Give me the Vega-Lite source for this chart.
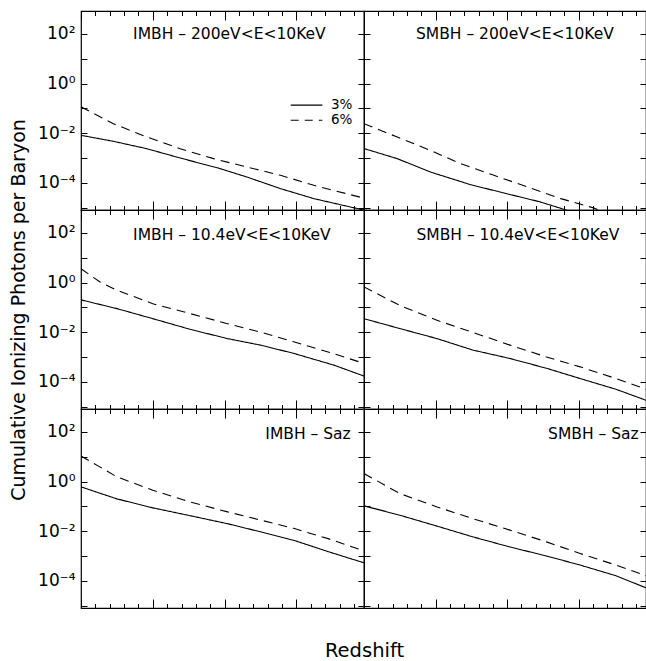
{
"$schema": "https://vega.github.io/schema/vega-lite/v6.json",
"padding": {"left": 8, "top": 9, "right": 0, "bottom": 0},
"background": "white",
"config": {
  "view": {"stroke": "black", "strokeWidth": 1.2},
  "axis": {"domain": false, "grid": false, "labels": false, "tickColor": "black", "tickWidth": 1, "labelFont": "DejaVu Sans", "titleFont": "DejaVu Sans", "labelColor": "black", "titleColor": "black", "titleFontWeight": "normal", "labelOverlap": false},
  "text": {"font": "DejaVu Sans", "color": "black"}
},
"datasets": {
  "curves": [
    {"p":"I200","s":"3%","z":5,"n":0.0082},{"p":"I200","s":"3%","z":7.25,"n":0.0047},{"p":"I200","s":"3%","z":9.58,"n":0.00237},{"p":"I200","s":"3%","z":11.9,"n":0.001},{"p":"I200","s":"3%","z":14.7,"n":0.00037},{"p":"I200","s":"3%","z":16.56,"n":0.00017},{"p":"I200","s":"3%","z":18.89,"n":0.000058},{"p":"I200","s":"3%","z":21.21,"n":0.000023},{"p":"I200","s":"3%","z":24.47,"n":0.0000085},{"p":"I200","s":"3%","z":24.7,"n":0.0000079},
    {"p":"I200","s":"6%","z":5,"n":0.115},{"p":"I200","s":"6%","z":7.25,"n":0.0241},{"p":"I200","s":"6%","z":9.58,"n":0.007},{"p":"I200","s":"6%","z":11.9,"n":0.00237},{"p":"I200","s":"6%","z":14.23,"n":0.00094},{"p":"I200","s":"6%","z":16.56,"n":0.00043},{"p":"I200","s":"6%","z":18.89,"n":0.0002},{"p":"I200","s":"6%","z":21.21,"n":0.000079},{"p":"I200","s":"6%","z":24.35,"n":0.000027},{"p":"I200","s":"6%","z":24.7,"n":0.000024},
    {"p":"S200","s":"3%","z":5,"n":0.0024},{"p":"S200","s":"3%","z":7.32,"n":0.00094},{"p":"S200","s":"3%","z":9.65,"n":0.00027},{"p":"S200","s":"3%","z":12.44,"n":0.000084},{"p":"S200","s":"3%","z":15,"n":0.000036},{"p":"S200","s":"3%","z":17.3,"n":0.000017},{"p":"S200","s":"3%","z":18.97,"n":0.0000085},{"p":"S200","s":"3%","z":19.4,"n":0.000007},
    {"p":"S200","s":"6%","z":5,"n":0.024},{"p":"S200","s":"6%","z":7.32,"n":0.007},{"p":"S200","s":"6%","z":9.65,"n":0.002},{"p":"S200","s":"6%","z":11.75,"n":0.00059},{"p":"S200","s":"6%","z":14.08,"n":0.0002},{"p":"S200","s":"6%","z":16.41,"n":0.000068},{"p":"S200","s":"6%","z":18.75,"n":0.000023},{"p":"S200","s":"6%","z":21.06,"n":0.0000096},{"p":"S200","s":"6%","z":21.6,"n":0.000007},
    {"p":"I104","s":"3%","z":5,"n":0.2},{"p":"I104","s":"3%","z":7.5,"n":0.089},{"p":"I104","s":"3%","z":10,"n":0.035},{"p":"I104","s":"3%","z":12.6,"n":0.013},{"p":"I104","s":"3%","z":15.2,"n":0.0055},{"p":"I104","s":"3%","z":17.5,"n":0.003},{"p":"I104","s":"3%","z":19.8,"n":0.0014},{"p":"I104","s":"3%","z":22.6,"n":0.00047},{"p":"I104","s":"3%","z":24.7,"n":0.00017},
    {"p":"I104","s":"6%","z":5,"n":3.6},{"p":"I104","s":"6%","z":6.3,"n":1.07},{"p":"I104","s":"6%","z":7.5,"n":0.49},{"p":"I104","s":"6%","z":10,"n":0.14},{"p":"I104","s":"6%","z":12.6,"n":0.056},{"p":"I104","s":"6%","z":15.2,"n":0.022},{"p":"I104","s":"6%","z":17.5,"n":0.01},{"p":"I104","s":"6%","z":19.8,"n":0.0041},{"p":"I104","s":"6%","z":22.2,"n":0.0016},{"p":"I104","s":"6%","z":24.7,"n":0.00055},
    {"p":"S104","s":"3%","z":5,"n":0.035},{"p":"S104","s":"3%","z":7.5,"n":0.014},{"p":"S104","s":"3%","z":10.1,"n":0.0055},{"p":"S104","s":"3%","z":12.6,"n":0.0019},{"p":"S104","s":"3%","z":15.2,"n":0.00087},{"p":"S104","s":"3%","z":17.75,"n":0.00035},{"p":"S104","s":"3%","z":20.1,"n":0.000135},{"p":"S104","s":"3%","z":22.6,"n":0.00005},{"p":"S104","s":"3%","z":24.7,"n":0.000018},
    {"p":"S104","s":"6%","z":5,"n":0.67},{"p":"S104","s":"6%","z":7.5,"n":0.12},{"p":"S104","s":"6%","z":10.1,"n":0.03},{"p":"S104","s":"6%","z":12.6,"n":0.0098},{"p":"S104","s":"6%","z":15.2,"n":0.003},{"p":"S104","s":"6%","z":17.75,"n":0.001},{"p":"S104","s":"6%","z":20.1,"n":0.0004},{"p":"S104","s":"6%","z":22.6,"n":0.000135},{"p":"S104","s":"6%","z":24.7,"n":0.00005},
    {"p":"ISaz","s":"3%","z":5,"n":0.61},{"p":"ISaz","s":"3%","z":7.5,"n":0.2},{"p":"ISaz","s":"3%","z":10,"n":0.087},{"p":"ISaz","s":"3%","z":12.6,"n":0.042},{"p":"ISaz","s":"3%","z":15.2,"n":0.02},{"p":"ISaz","s":"3%","z":17.5,"n":0.0094},{"p":"ISaz","s":"3%","z":19.8,"n":0.0043},{"p":"ISaz","s":"3%","z":22.2,"n":0.0015},{"p":"ISaz","s":"3%","z":24.7,"n":0.00053},
    {"p":"ISaz","s":"6%","z":5,"n":10.7},{"p":"ISaz","s":"6%","z":6.3,"n":3.9},{"p":"ISaz","s":"6%","z":7.5,"n":1.54},{"p":"ISaz","s":"6%","z":10,"n":0.45},{"p":"ISaz","s":"6%","z":12.6,"n":0.15},{"p":"ISaz","s":"6%","z":15.2,"n":0.06},{"p":"ISaz","s":"6%","z":17.5,"n":0.028},{"p":"ISaz","s":"6%","z":19.8,"n":0.013},{"p":"ISaz","s":"6%","z":22.2,"n":0.005},{"p":"ISaz","s":"6%","z":24.7,"n":0.0016},
    {"p":"SSaz","s":"3%","z":5,"n":0.105},{"p":"SSaz","s":"3%","z":7.5,"n":0.044},{"p":"SSaz","s":"3%","z":10.1,"n":0.016},{"p":"SSaz","s":"3%","z":12.6,"n":0.0059},{"p":"SSaz","s":"3%","z":15.2,"n":0.0023},{"p":"SSaz","s":"3%","z":17.75,"n":0.001},{"p":"SSaz","s":"3%","z":20.1,"n":0.00043},{"p":"SSaz","s":"3%","z":22.6,"n":0.00016},{"p":"SSaz","s":"3%","z":24.7,"n":0.000052},
    {"p":"SSaz","s":"6%","z":5,"n":2.1},{"p":"SSaz","s":"6%","z":7.5,"n":0.33},{"p":"SSaz","s":"6%","z":10.1,"n":0.095},{"p":"SSaz","s":"6%","z":12.6,"n":0.032},{"p":"SSaz","s":"6%","z":15.2,"n":0.011},{"p":"SSaz","s":"6%","z":17.75,"n":0.0037},{"p":"SSaz","s":"6%","z":20.1,"n":0.00126},{"p":"SSaz","s":"6%","z":22.6,"n":0.00043},{"p":"SSaz","s":"6%","z":24.7,"n":0.00016}
  ]
},
"columns": 2,
"spacing": 0,
"bounds": "flush",
"concat": [
 {"width": 283, "height": 199,
  "layer": [
   {"data": {"name": "curves"}, "transform": [{"filter": "datum.p=='I200'"}],
    "mark": {"type": "line", "clip": true, "color": "black", "strokeWidth": 1.1},
    "encoding": {
     "x": {"field": "z", "type": "quantitative", "scale": {"domain": [5, 24.7], "nice": false, "zero": false}, "axis": {"orient": "bottom", "title": null, "values": [5,6,7,8,9,10,11,12,13,14,15,16,17,18,19,20,21,22,23,24], "tickSize": {"condition": {"test": "datum.value % 5 === 0", "value": -9}, "value": -4.5}}},
     "y": {"field": "n", "type": "quantitative", "scale": {"type": "log", "domain": [8e-6, 840], "nice": false}, "axis": {"orient": "left", "title": null, "values": [1e-5,1e-4,1e-3,1e-2,1e-1,1,10,100], "tickSize": -6, "labels": true, "labelFontSize": 17, "labelPadding": 12, "labelExpr": "round(log(datum.value)/LN10)==2?'10²':round(log(datum.value)/LN10)==0?'10⁰':round(log(datum.value)/LN10)==-2?'10⁻²':round(log(datum.value)/LN10)==-4?'10⁻⁴':''"}},
     "strokeDash": {"field": "s", "type": "nominal", "scale": {"domain": ["3%", "6%"], "range": [[1, 0], [9, 6]]}, "legend": null}}},
   {"data": {"name": "curves"}, "transform": [{"filter": "datum.p=='I200'"}],
    "mark": {"type": "point", "opacity": 0},
    "encoding": {
     "x": {"field": "z", "type": "quantitative", "axis": {"orient": "top", "title": null, "values": [5,6,7,8,9,10,11,12,13,14,15,16,17,18,19,20,21,22,23,24], "tickSize": {"condition": {"test": "datum.value % 5 === 0", "value": -9}, "value": -4.5}}},
     "y": {"field": "n", "type": "quantitative", "axis": {"orient": "right", "title": null, "values": [1e-5,1e-4,1e-3,1e-2,1e-1,1,10,100], "tickSize": -6}}}},
   {"data": {"values": [{"t": "IMBH – 200eV<E<10KeV"}]},
    "mark": {"type": "text", "fontSize": 15.5, "align": "center", "baseline": "middle"},
    "encoding": {"x": {"datum": 15.33, "type": "quantitative", "axis": null}, "y": {"datum": 100, "type": "quantitative", "axis": null}, "text": {"field": "t"}}},
   {"data": {"values": [{"s": "3%"}]},
    "mark": {"type": "rule", "color": "black", "strokeWidth": 1.1},
    "encoding": {"x": {"datum": 19.6, "type": "quantitative", "axis": null}, "x2": {"datum": 21.8}, "y": {"datum": 0.135, "type": "quantitative", "axis": null}}},
   {"data": {"values": [{"s": "6%"}]},
    "mark": {"type": "rule", "color": "black", "strokeWidth": 1.1, "strokeDash": [8, 6]},
    "encoding": {"x": {"datum": 19.6, "type": "quantitative", "axis": null}, "x2": {"datum": 21.8}, "y": {"datum": 0.033, "type": "quantitative", "axis": null}}},
   {"data": {"values": [{"s": "3%", "v": 0.135}, {"s": "6%", "v": 0.033}]},
    "mark": {"type": "text", "fontSize": 13.5, "align": "left", "baseline": "middle"},
    "encoding": {"x": {"datum": 22.4, "type": "quantitative", "axis": null}, "y": {"field": "v", "type": "quantitative", "axis": null}, "text": {"field": "s"}}}
  ],
  "resolve": {"axis": {"x": "independent", "y": "independent"}}},
 {"width": 282, "height": 199,
  "layer": [
   {"data": {"name": "curves"}, "transform": [{"filter": "datum.p=='S200'"}],
    "mark": {"type": "line", "clip": true, "color": "black", "strokeWidth": 1.1},
    "encoding": {
     "x": {"field": "z", "type": "quantitative", "scale": {"domain": [5, 24.7], "nice": false, "zero": false}, "axis": {"orient": "bottom", "title": null, "values": [5,6,7,8,9,10,11,12,13,14,15,16,17,18,19,20,21,22,23,24], "tickSize": {"condition": {"test": "datum.value % 5 === 0", "value": -9}, "value": -4.5}}},
     "y": {"field": "n", "type": "quantitative", "scale": {"type": "log", "domain": [8e-6, 840], "nice": false}, "axis": {"orient": "left", "title": null, "values": [1e-5,1e-4,1e-3,1e-2,1e-1,1,10,100], "tickSize": -6}},
     "strokeDash": {"field": "s", "type": "nominal", "scale": {"domain": ["3%", "6%"], "range": [[1, 0], [9, 6]]}, "legend": null}}},
   {"data": {"name": "curves"}, "transform": [{"filter": "datum.p=='S200'"}],
    "mark": {"type": "point", "opacity": 0},
    "encoding": {
     "x": {"field": "z", "type": "quantitative", "axis": {"orient": "top", "title": null, "values": [5,6,7,8,9,10,11,12,13,14,15,16,17,18,19,20,21,22,23,24], "tickSize": {"condition": {"test": "datum.value % 5 === 0", "value": -9}, "value": -4.5}}},
     "y": {"field": "n", "type": "quantitative", "axis": {"orient": "right", "title": null, "values": [1e-5,1e-4,1e-3,1e-2,1e-1,1,10,100], "tickSize": -6}}}},
   {"data": {"values": [{"t": "SMBH – 200eV<E<10KeV"}]},
    "mark": {"type": "text", "fontSize": 15.5, "align": "center", "baseline": "middle"},
    "encoding": {"x": {"datum": 15.54, "type": "quantitative", "axis": null}, "y": {"datum": 100, "type": "quantitative", "axis": null}, "text": {"field": "t"}}}
  ],
  "resolve": {"axis": {"x": "independent", "y": "independent"}}},
 {"width": 283, "height": 199,
  "layer": [
   {"data": {"name": "curves"}, "transform": [{"filter": "datum.p=='I104'"}],
    "mark": {"type": "line", "clip": true, "color": "black", "strokeWidth": 1.1},
    "encoding": {
     "x": {"field": "z", "type": "quantitative", "scale": {"domain": [5, 24.7], "nice": false, "zero": false}, "axis": {"orient": "bottom", "title": null, "values": [5,6,7,8,9,10,11,12,13,14,15,16,17,18,19,20,21,22,23,24], "tickSize": {"condition": {"test": "datum.value % 5 === 0", "value": -9}, "value": -4.5}}},
     "y": {"field": "n", "type": "quantitative", "scale": {"type": "log", "domain": [8e-6, 840], "nice": false}, "axis": {"orient": "left", "title": "Cumulative Ionizing Photons per Baryon", "titleFontSize": 19, "titlePadding": 9, "values": [1e-5,1e-4,1e-3,1e-2,1e-1,1,10,100], "tickSize": -6, "labels": true, "labelFontSize": 17, "labelPadding": 12, "labelExpr": "round(log(datum.value)/LN10)==2?'10²':round(log(datum.value)/LN10)==0?'10⁰':round(log(datum.value)/LN10)==-2?'10⁻²':round(log(datum.value)/LN10)==-4?'10⁻⁴':''"}},
     "strokeDash": {"field": "s", "type": "nominal", "scale": {"domain": ["3%", "6%"], "range": [[1, 0], [9, 6]]}, "legend": null}}},
   {"data": {"name": "curves"}, "transform": [{"filter": "datum.p=='I104'"}],
    "mark": {"type": "point", "opacity": 0},
    "encoding": {
     "x": {"field": "z", "type": "quantitative", "axis": {"orient": "top", "title": null, "values": [5,6,7,8,9,10,11,12,13,14,15,16,17,18,19,20,21,22,23,24], "tickSize": {"condition": {"test": "datum.value % 5 === 0", "value": -9}, "value": -4.5}}},
     "y": {"field": "n", "type": "quantitative", "axis": {"orient": "right", "title": null, "values": [1e-5,1e-4,1e-3,1e-2,1e-1,1,10,100], "tickSize": -6}}}},
   {"data": {"values": [{"t": "IMBH – 10.4eV<E<10KeV"}]},
    "mark": {"type": "text", "fontSize": 15.5, "align": "center", "baseline": "middle"},
    "encoding": {"x": {"datum": 15.5, "type": "quantitative", "axis": null}, "y": {"datum": 80, "type": "quantitative", "axis": null}, "text": {"field": "t"}}}
  ],
  "resolve": {"axis": {"x": "independent", "y": "independent"}}},
 {"width": 282, "height": 199,
  "layer": [
   {"data": {"name": "curves"}, "transform": [{"filter": "datum.p=='S104'"}],
    "mark": {"type": "line", "clip": true, "color": "black", "strokeWidth": 1.1},
    "encoding": {
     "x": {"field": "z", "type": "quantitative", "scale": {"domain": [5, 24.7], "nice": false, "zero": false}, "axis": {"orient": "bottom", "title": null, "values": [5,6,7,8,9,10,11,12,13,14,15,16,17,18,19,20,21,22,23,24], "tickSize": {"condition": {"test": "datum.value % 5 === 0", "value": -9}, "value": -4.5}}},
     "y": {"field": "n", "type": "quantitative", "scale": {"type": "log", "domain": [8e-6, 840], "nice": false}, "axis": {"orient": "left", "title": null, "values": [1e-5,1e-4,1e-3,1e-2,1e-1,1,10,100], "tickSize": -6}},
     "strokeDash": {"field": "s", "type": "nominal", "scale": {"domain": ["3%", "6%"], "range": [[1, 0], [9, 6]]}, "legend": null}}},
   {"data": {"name": "curves"}, "transform": [{"filter": "datum.p=='S104'"}],
    "mark": {"type": "point", "opacity": 0},
    "encoding": {
     "x": {"field": "z", "type": "quantitative", "axis": {"orient": "top", "title": null, "values": [5,6,7,8,9,10,11,12,13,14,15,16,17,18,19,20,21,22,23,24], "tickSize": {"condition": {"test": "datum.value % 5 === 0", "value": -9}, "value": -4.5}}},
     "y": {"field": "n", "type": "quantitative", "axis": {"orient": "right", "title": null, "values": [1e-5,1e-4,1e-3,1e-2,1e-1,1,10,100], "tickSize": -6}}}},
   {"data": {"values": [{"t": "SMBH – 10.4eV<E<10KeV"}]},
    "mark": {"type": "text", "fontSize": 15.5, "align": "center", "baseline": "middle"},
    "encoding": {"x": {"datum": 15.75, "type": "quantitative", "axis": null}, "y": {"datum": 85, "type": "quantitative", "axis": null}, "text": {"field": "t"}}}
  ],
  "resolve": {"axis": {"x": "independent", "y": "independent"}}},
 {"width": 283, "height": 199,
  "layer": [
   {"data": {"name": "curves"}, "transform": [{"filter": "datum.p=='ISaz'"}],
    "mark": {"type": "line", "clip": true, "color": "black", "strokeWidth": 1.1},
    "encoding": {
     "x": {"field": "z", "type": "quantitative", "scale": {"domain": [5, 24.7], "nice": false, "zero": false}, "axis": {"orient": "bottom", "title": "Redshift", "titleFontSize": 19.5, "titleX": 283, "titleY": 48, "titleAlign": "center", "titleBaseline": "alphabetic", "values": [5,6,7,8,9,10,11,12,13,14,15,16,17,18,19,20,21,22,23,24], "tickSize": {"condition": {"test": "datum.value % 5 === 0", "value": -9}, "value": -4.5}}},
     "y": {"field": "n", "type": "quantitative", "scale": {"type": "log", "domain": [8e-6, 840], "nice": false}, "axis": {"orient": "left", "title": null, "values": [1e-5,1e-4,1e-3,1e-2,1e-1,1,10,100], "tickSize": -6, "labels": true, "labelFontSize": 17, "labelPadding": 12, "labelExpr": "round(log(datum.value)/LN10)==2?'10²':round(log(datum.value)/LN10)==0?'10⁰':round(log(datum.value)/LN10)==-2?'10⁻²':round(log(datum.value)/LN10)==-4?'10⁻⁴':''"}},
     "strokeDash": {"field": "s", "type": "nominal", "scale": {"domain": ["3%", "6%"], "range": [[1, 0], [9, 6]]}, "legend": null}}},
   {"data": {"name": "curves"}, "transform": [{"filter": "datum.p=='ISaz'"}],
    "mark": {"type": "point", "opacity": 0},
    "encoding": {
     "x": {"field": "z", "type": "quantitative", "axis": {"orient": "top", "title": null, "values": [5,6,7,8,9,10,11,12,13,14,15,16,17,18,19,20,21,22,23,24], "tickSize": {"condition": {"test": "datum.value % 5 === 0", "value": -9}, "value": -4.5}}},
     "y": {"field": "n", "type": "quantitative", "axis": {"orient": "right", "title": null, "values": [1e-5,1e-4,1e-3,1e-2,1e-1,1,10,100], "tickSize": -6}}}},
   {"data": {"values": [{"t": "IMBH – Saz"}]},
    "mark": {"type": "text", "fontSize": 15.5, "align": "right", "baseline": "middle"},
    "encoding": {"x": {"datum": 23.77, "type": "quantitative", "axis": null}, "y": {"datum": 80, "type": "quantitative", "axis": null}, "text": {"field": "t"}}}
  ],
  "resolve": {"axis": {"x": "independent", "y": "independent"}}},
 {"width": 282, "height": 199,
  "layer": [
   {"data": {"name": "curves"}, "transform": [{"filter": "datum.p=='SSaz'"}],
    "mark": {"type": "line", "clip": true, "color": "black", "strokeWidth": 1.1},
    "encoding": {
     "x": {"field": "z", "type": "quantitative", "scale": {"domain": [5, 24.7], "nice": false, "zero": false}, "axis": {"orient": "bottom", "title": null, "values": [5,6,7,8,9,10,11,12,13,14,15,16,17,18,19,20,21,22,23,24], "tickSize": {"condition": {"test": "datum.value % 5 === 0", "value": -9}, "value": -4.5}}},
     "y": {"field": "n", "type": "quantitative", "scale": {"type": "log", "domain": [8e-6, 840], "nice": false}, "axis": {"orient": "left", "title": null, "values": [1e-5,1e-4,1e-3,1e-2,1e-1,1,10,100], "tickSize": -6}},
     "strokeDash": {"field": "s", "type": "nominal", "scale": {"domain": ["3%", "6%"], "range": [[1, 0], [9, 6]]}, "legend": null}}},
   {"data": {"name": "curves"}, "transform": [{"filter": "datum.p=='SSaz'"}],
    "mark": {"type": "point", "opacity": 0},
    "encoding": {
     "x": {"field": "z", "type": "quantitative", "axis": {"orient": "top", "title": null, "values": [5,6,7,8,9,10,11,12,13,14,15,16,17,18,19,20,21,22,23,24], "tickSize": {"condition": {"test": "datum.value % 5 === 0", "value": -9}, "value": -4.5}}},
     "y": {"field": "n", "type": "quantitative", "axis": {"orient": "right", "title": null, "values": [1e-5,1e-4,1e-3,1e-2,1e-1,1,10,100], "tickSize": -6}}}},
   {"data": {"values": [{"t": "SMBH – Saz"}]},
    "mark": {"type": "text", "fontSize": 15.5, "align": "right", "baseline": "middle"},
    "encoding": {"x": {"datum": 24.19, "type": "quantitative", "axis": null}, "y": {"datum": 85, "type": "quantitative", "axis": null}, "text": {"field": "t"}}}
  ],
  "resolve": {"axis": {"x": "independent", "y": "independent"}}}
]
}
